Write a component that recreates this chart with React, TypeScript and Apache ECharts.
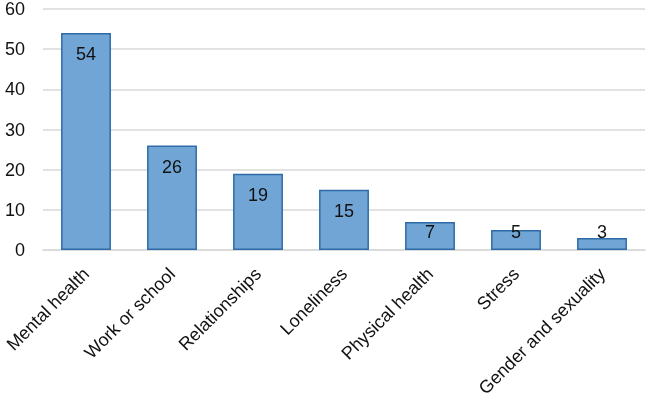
import React, { useEffect, useRef } from "react";
import * as echarts from "echarts";

const categories = [
  "Mental health",
  "Work or school",
  "Relationships",
  "Loneliness",
  "Physical health",
  "Stress",
  "Gender and sexuality",
];
const values = [54, 26, 19, 15, 7, 5, 3];
const yTicks = { min: 0, max: 60, interval: 10 };

export default function App() {
  const ref = useRef<HTMLDivElement>(null);
  useEffect(() => {
    if (!ref.current) return;
    const chart = echarts.init(ref.current, null, { renderer: "svg" });
    const font = "'Liberation Sans', Arial, sans-serif";
    chart.setOption({
      animation: false,
      grid: {
        left: 43,
        right: 11,
        top: 9,
        bottom: 150,
        containLabel: false,
        outerBoundsMode: "none",
      },
      xAxis: {
        type: "category",
        data: categories,
        axisTick: { show: false },
        axisLine: { lineStyle: { color: "#d9d9d9", width: 1.5 } },
        axisLabel: {
          rotate: 45,
          interval: 0,
          margin: 21,
          fontSize: 18,
          lineHeight: 18,
          color: "#111",
          fontFamily: font,
        },
      },
      yAxis: {
        type: "value",
        min: yTicks.min,
        max: yTicks.max,
        interval: yTicks.interval,
        axisLine: { show: false },
        axisTick: { show: false },
        splitLine: { lineStyle: { color: "#d9d9d9", width: 1.5 } },
        axisLabel: {
          fontSize: 18,
          lineHeight: 16,
          color: "#111",
          margin: 18,
          fontFamily: font,
        },
      },
      series: [
        {
          type: "bar",
          barWidth: "58%",
          data: values.map((v) => ({
            value: v,
            label:
              v >= 10
                ? { position: "insideTop", distance: 12 }
                : { position: "insideBottom", distance: 9 },
          })),
          itemStyle: { color: "#70a5d5", borderColor: "#2d6ca6", borderWidth: 1.5 },
          label: {
            show: true,
            fontSize: 18,
            color: "#111",
            fontFamily: font,
          },
        },
      ],
    });
    return () => chart.dispose();
  }, []);
  return (
    <div
      ref={ref}
      style={{ position: "fixed", left: 0, top: 0, width: 656, height: 400 }}
    />
  );
}
